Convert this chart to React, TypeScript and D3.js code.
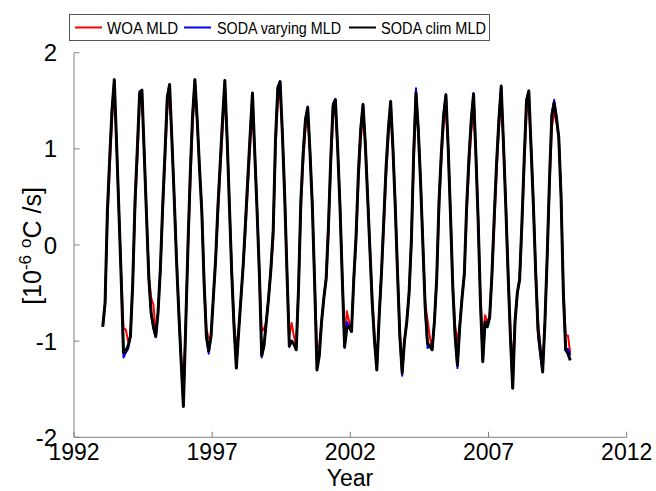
import React from 'react';
import * as d3 from 'd3';

const startYear = 1993;

// WOA MLD (monthly, Jan 1993 - Dec 2009)
const woaMLD: number[] = [
  -0.85, -0.62, 0.25, 0.78, 1.3, 1.62, 1.05, 0.38, -0.3, -0.86, -0.88, -1.0,
  -0.95, -0.42, 0.35, 0.88, 1.45, 1.52, 0.98, 0.32, -0.3, -0.55, -0.62, -0.92,
  -0.7, -0.28, 0.3, 0.85, 1.4, 1.55, 1.12, 0.52, -0.1, -0.65, -1.15, -1.45,
  -0.85, -0.05, 0.62, 1.25, 1.6, 1.3, 0.82, 0.38, -0.35, -0.88, -0.97, -0.95,
  -0.55, -0.18, 0.3, 0.75, 1.18, 1.58, 1.12, 0.45, -0.25, -0.8, -1.06, -0.9,
  -0.55, -0.22, 0.15, 0.6, 1.02, 1.38, 0.98, 0.4, -0.25, -0.9, -0.87, -0.8,
  -0.55, -0.28, 0.05, 0.98, 1.5, 1.58, 1.18, 0.55, -0.25, -0.95, -0.81, -0.95,
  -1.05, -0.48, 0.35, 0.85, 1.2, 1.33, 0.98, 0.45, -0.35, -1.07, -1.05, -0.8,
  -0.55, -0.38, 0.1, 0.8, 1.32, 1.42, 1.02, 0.45, -0.3, -1.0, -0.69, -0.8,
  -0.88, -0.38, 0.02, 0.65, 1.08, 1.35, 1.08, 0.55, 0.0, -0.55, -0.95, -1.22,
  -0.75, -0.32, 0.15, 0.7, 1.1, 1.38, 1.02, 0.45, -0.25, -0.9, -1.25, -1.0,
  -0.8, -0.52, -0.02, 0.85, 1.45, 1.22, 0.68, 0.05, -0.6, -0.78, -0.95, -1.09,
  -0.8, -0.38, 0.35, 0.85, 1.25, 1.42, 1.02, 0.35, -0.4, -0.85, -0.99, -0.85,
  -0.55, -0.32, 0.3, 0.8, 1.18, 1.39, 0.98, 0.3, -0.55, -1.0, -0.73, -0.8,
  -0.75, -0.32, 0.2, 0.75, 1.2, 1.48, 1.08, 0.45, -0.25, -0.9, -1.23, -0.8,
  -0.5, -0.38, 0.15, 0.8, 1.38, 1.43, 1.02, 0.45, -0.25, -0.8, -1.05, -1.3,
  -0.8, -0.12, 0.6, 1.22, 1.38, 1.28, 1.12, 0.55, -0.45, -0.94, -0.94, -1.13,
];

// SODA varying MLD
const sodaVaryingMLD: number[] = [
  -0.85, -0.6, 0.37, 0.92, 1.42, 1.71, 1.05, 0.35, -0.35, -1.17, -1.12, -1.08,
  -0.95, -0.4, 0.47, 1.02, 1.6, 1.61, 0.95, 0.3, -0.35, -0.72, -0.87, -0.96,
  -0.7, -0.25, 0.42, 0.97, 1.55, 1.67, 1.1, 0.5, -0.15, -0.72, -1.22, -1.66,
  -0.85, 0.02, 0.77, 1.37, 1.72, 1.3, 0.8, 0.35, -0.42, -0.97, -1.13, -0.95,
  -0.55, -0.13, 0.42, 0.87, 1.32, 1.71, 1.1, 0.4, -0.3, -0.87, -1.27, -0.9,
  -0.55, -0.18, 0.27, 0.72, 1.17, 1.58, 0.95, 0.35, -0.32, -1.17, -1.05, -0.8,
  -0.55, -0.23, 0.17, 1.12, 1.65, 1.7, 1.15, 0.5, -0.32, -1.06, -1.0, -1.03,
  -1.09, -0.43, 0.47, 0.97, 1.32, 1.44, 0.95, 0.4, -0.42, -1.22, -1.16, -0.8,
  -0.55, -0.33, 0.22, 0.92, 1.47, 1.52, 1.0, 0.4, -0.37, -1.07, -0.8, -0.85,
  -0.9, -0.33, 0.12, 0.77, 1.22, 1.47, 1.05, 0.5, -0.07, -0.62, -1.02, -1.3,
  -0.75, -0.28, 0.27, 0.82, 1.22, 1.5, 1.0, 0.4, -0.32, -0.97, -1.36, -1.0,
  -0.8, -0.48, 0.07, 0.98, 1.63, 1.22, 0.65, 0.0, -0.67, -1.07, -1.06, -1.09,
  -0.8, -0.33, 0.47, 0.97, 1.37, 1.57, 1.0, 0.3, -0.47, -0.97, -1.28, -0.85,
  -0.55, -0.28, 0.42, 0.92, 1.32, 1.58, 0.95, 0.25, -0.62, -1.22, -0.8, -0.85,
  -0.75, -0.28, 0.32, 0.87, 1.32, 1.66, 1.05, 0.4, -0.32, -0.97, -1.49, -0.8,
  -0.5, -0.34, 0.25, 0.92, 1.52, 1.61, 1.0, 0.4, -0.32, -0.95, -1.15, -1.32,
  -0.8, -0.08, 0.72, 1.37, 1.51, 1.34, 1.13, 0.5, -0.52, -1.1, -1.08, -1.15,
];

// SODA clim MLD
const sodaClimMLD: number[] = [
  -0.85, -0.6, 0.35, 0.9, 1.4, 1.72, 1.05, 0.35, -0.35, -1.12, -1.1, -1.05,
  -0.95, -0.4, 0.45, 1.0, 1.58, 1.61, 0.95, 0.3, -0.35, -0.71, -0.85, -0.95,
  -0.7, -0.25, 0.4, 0.95, 1.53, 1.67, 1.1, 0.5, -0.15, -0.7, -1.2, -1.68,
  -0.85, 0.0, 0.75, 1.35, 1.72, 1.3, 0.8, 0.35, -0.4, -0.95, -1.1, -0.95,
  -0.55, -0.15, 0.4, 0.85, 1.3, 1.71, 1.1, 0.4, -0.3, -0.85, -1.28, -0.9,
  -0.55, -0.2, 0.25, 0.7, 1.15, 1.58, 0.95, 0.35, -0.3, -1.15, -1.05, -0.8,
  -0.55, -0.25, 0.15, 1.1, 1.63, 1.7, 1.15, 0.5, -0.3, -1.05, -1.0, -1.03,
  -1.09, -0.45, 0.45, 0.95, 1.3, 1.43, 0.95, 0.4, -0.4, -1.3, -1.15, -0.8,
  -0.55, -0.35, 0.2, 0.9, 1.45, 1.51, 1.0, 0.4, -0.35, -1.06, -0.86, -0.85,
  -0.9, -0.35, 0.1, 0.75, 1.2, 1.46, 1.05, 0.5, -0.05, -0.6, -1.0, -1.3,
  -0.75, -0.3, 0.25, 0.8, 1.2, 1.49, 1.0, 0.4, -0.3, -0.95, -1.33, -1.0,
  -0.8, -0.5, 0.05, 0.95, 1.58, 1.2, 0.65, 0.0, -0.65, -1.02, -1.05, -1.09,
  -0.8, -0.35, 0.45, 0.95, 1.35, 1.56, 1.0, 0.3, -0.45, -0.95, -1.25, -0.85,
  -0.55, -0.3, 0.4, 0.9, 1.3, 1.57, 0.95, 0.25, -0.6, -1.21, -0.8, -0.85,
  -0.75, -0.3, 0.3, 0.85, 1.3, 1.65, 1.05, 0.4, -0.3, -0.95, -1.49, -0.8,
  -0.5, -0.36, 0.23, 0.9, 1.5, 1.6, 1.0, 0.4, -0.3, -0.88, -1.1, -1.32,
  -0.8, -0.1, 0.7, 1.35, 1.48, 1.32, 1.12, 0.5, -0.5, -1.09, -1.13, -1.2,
];

const seriesNames = ['WOA MLD', 'SODA varying MLD', 'SODA clim MLD'];
const seriesColors = ['#ff0000', '#0000ff', '#000000'];
const seriesWidths = [2, 2, 3];
const xTicks = [1992, 1997, 2002, 2007, 2012];
const yTicks = [-2, -1, 0, 1, 2];

const FONT = '"Liberation Sans", Arial, sans-serif';
const AXIS = '#808080';

export default function App() {
  const W = 656;
  const H = 491;
  const x = d3.scaleLinear().domain([1992, 2012]).range([74, 626.7]);
  const y = d3.scaleLinear().domain([-2, 2]).range([437.3, 52.7]);
  const t = (i: number) => startYear + (i + 0.5) / 12;
  const line = d3
    .line<number>()
    .x((_, i) => x(t(i)))
    .y((d) => y(d));
  const series = [woaMLD, sodaVaryingMLD, sodaClimMLD];
  const [x0, x1] = x.range();
  const [y0, y1] = y.range();

  const legendItems = [
    { lx: 75, tx: 107, w: 71 },
    { lx: 184, tx: 217, w: 124 },
    { lx: 349, tx: 381, w: 105 },
  ];

  return (
    <svg
      width={W}
      height={H}
      style={{ position: 'absolute', left: 0, top: 0, background: '#fff' }}
      fontFamily={FONT}
    >
      <rect x={0} y={0} width={W} height={H} fill="#fff" />
      {/* axes */}
      <line x1={x0} x2={x1} y1={y0} y2={y0} stroke={AXIS} strokeWidth={1} />
      <line x1={x0} x2={x0} y1={y0} y2={y1} stroke={AXIS} strokeWidth={1} />
      {xTicks.map((v) => (
        <g key={'xt' + v}>
          <line x1={x(v)} x2={x(v)} y1={y0} y2={y0 - 5.5} stroke={AXIS} />
          <text x={x(v)} y={460} fontSize={23} textAnchor="middle" fill="#000">
            {v}
          </text>
        </g>
      ))}
      {yTicks.map((v) => (
        <g key={'yt' + v}>
          <line x1={x0} x2={x0 + 5.5} y1={y(v)} y2={y(v)} stroke={AXIS} />
          <text x={x0 - 17} y={y(v) + 8.5} fontSize={24} textAnchor="end" fill="#000">
            {v}
          </text>
        </g>
      ))}
      <text x={350} y={486} fontSize={23} textAnchor="middle" fill="#000">
        Year
      </text>
      <text
        transform={`translate(41,246) rotate(-90)`}
        fontSize={25}
        textAnchor="middle"
        fill="#000"
      >
        [10
        <tspan fontSize={17} dy={-10}>-6</tspan>
        <tspan dy={10}> </tspan>
        <tspan fontSize={17} dy={-10}>o</tspan>
        <tspan dy={10}>C /s]</tspan>
      </text>
      {/* series */}
      {series.map((s, k) => (
        <path
          key={'s' + k}
          d={line(s) || ''}
          fill="none"
          stroke={seriesColors[k]}
          strokeWidth={seriesWidths[k]}
          strokeLinejoin="round"
        />
      ))}
      {/* legend */}
      <rect x={69.5} y={14.5} width={420} height={26} fill="#fff" stroke="#555" strokeWidth={1} />
      {seriesNames.map((n, k) => (
        <g key={'lg' + k}>
          <line
            x1={legendItems[k].lx}
            x2={legendItems[k].lx + 27}
            y1={27.5}
            y2={27.5}
            stroke={seriesColors[k]}
            strokeWidth={2}
          />
          <text
            x={legendItems[k].tx}
            y={33.5}
            fontSize={16}
            fill="#000"
            textLength={legendItems[k].w}
            lengthAdjust="spacingAndGlyphs"
          >
            {n}
          </text>
        </g>
      ))}
    </svg>
  );
}
